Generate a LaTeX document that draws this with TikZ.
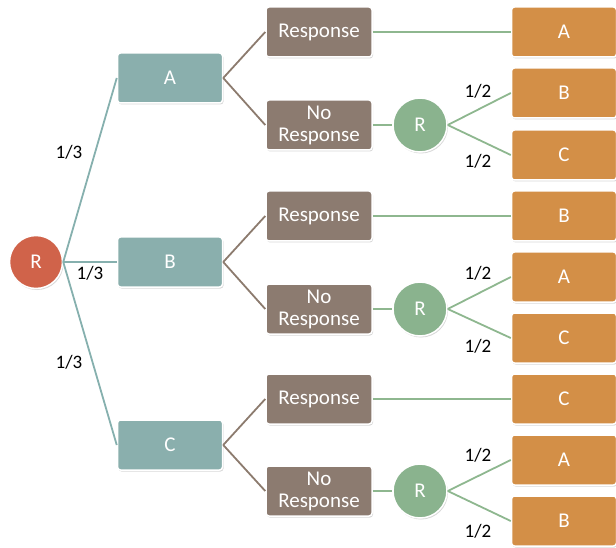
\documentclass[tikz,border=0pt]{standalone}
\usepackage{fontspec}
\setmainfont{Carlito}
\usetikzlibrary{shadows}
\definecolor{rootc}{HTML}{D0634A}
\definecolor{tealc}{HTML}{8AAFAD}
\definecolor{brownc}{HTML}{8C7B70}
\definecolor{orangec}{HTML}{D38F47}
\definecolor{greenc}{HTML}{8AB38E}
\definecolor{teall}{HTML}{86B0AE}
\definecolor{brownl}{HTML}{8C7B6E}
\definecolor{greenl}{HTML}{8EB78F}
\tikzset{
  boxbase/.style={rectangle, rounded corners=3pt, draw=white, line width=1.5pt,
    inner sep=0pt, text=white, align=center, font=\fontsize{21}{22}\selectfont,
    drop shadow={shadow xshift=1pt, shadow yshift=-1.5pt, opacity=0.25, fill=black!60}},
  tbox/.style={boxbase, fill=tealc, minimum width=105pt, minimum height=50pt},
  bbox/.style={boxbase, fill=brownc, minimum width=106pt, minimum height=50pt},
  obox/.style={boxbase, fill=orangec, minimum width=105pt, minimum height=50pt},
  rootnode/.style={circle, fill=rootc, draw=white, line width=1.5pt, minimum size=53pt, inner sep=0pt,
    text=white, font=\fontsize{21}{22}\selectfont,
    drop shadow={shadow xshift=1pt, shadow yshift=-1.5pt, opacity=0.25, fill=black!60}},
  gnode/.style={rootnode, fill=greenc, minimum size=54pt},
  tline/.style={draw=teall, line width=1.8pt},
  bline/.style={draw=brownl, line width=1.8pt},
  gline/.style={draw=greenl, line width=1.8pt},
  prob/.style={font=\fontsize{19}{20}\selectfont, text=black, inner sep=0pt},
}
\begin{document}
\begin{tikzpicture}[x=1pt,y=-1pt]
\useasboundingbox (0,0) rectangle (616,548);
% nodes
\node[rootnode] (r) at (36,262) {R};
\node[tbox] (ta) at (170,78) {A};
\node[tbox] (tb) at (170,262) {B};
\node[tbox] (tc) at (170,445) {C};
\node[bbox] (ra) at (319,32) {Response};
\node[bbox] (na) at (319,125) {No\\Response};
\node[bbox] (rb) at (319,216) {Response};
\node[bbox] (nb) at (319,309) {No\\Response};
\node[bbox] (rc) at (319,399) {Response};
\node[bbox] (nc) at (319,491) {No\\Response};
\node[gnode] (ga) at (420,125) {R};
\node[gnode] (gb) at (420,309) {R};
\node[gnode] (gc) at (420,491) {R};
\node[obox] (o1) at (564,32) {A};
\node[obox] (o2) at (564,93) {B};
\node[obox] (o3) at (564,155) {C};
\node[obox] (o4) at (564,216) {B};
\node[obox] (o5) at (564,277) {A};
\node[obox] (o6) at (564,338) {C};
\node[obox] (o7) at (564,399) {C};
\node[obox] (o8) at (564,460) {A};
\node[obox] (o9) at (564,521) {B};
% connectors
\draw[tline] (r.east) -- (ta.west);
\draw[tline] (r.east) -- (tb.west);
\draw[tline] (r.east) -- (tc.west);
\draw[bline] (ta.east) -- (ra.west);
\draw[bline] (ta.east) -- (na.west);
\draw[bline] (tb.east) -- (rb.west);
\draw[bline] (tb.east) -- (nb.west);
\draw[bline] (tc.east) -- (rc.west);
\draw[bline] (tc.east) -- (nc.west);
\draw[gline] (ra.east) -- (o1.west);
\draw[gline] (rb.east) -- (o4.west);
\draw[gline] (rc.east) -- (o7.west);
\draw[gline] (na.east) -- (ga.west);
\draw[gline] (nb.east) -- (gb.west);
\draw[gline] (nc.east) -- (gc.west);
\draw[gline] (ga.east) -- (o2.west);
\draw[gline] (ga.east) -- (o3.west);
\draw[gline] (gb.east) -- (o5.west);
\draw[gline] (gb.east) -- (o6.west);
\draw[gline] (gc.east) -- (o8.west);
\draw[gline] (gc.east) -- (o9.west);
% labels
\node[prob] (p1) at (69,152) {1/3};
\node[prob] (p2) at (90,273) {1/3};
\node[prob] (p3) at (69,362) {1/3};
\node[prob] (q1) at (478,91) {1/2};
\node[prob] (q2) at (478,161) {1/2};
\node[prob] (q3) at (478,273) {1/2};
\node[prob] (q4) at (478,346) {1/2};
\node[prob] (q5) at (478,455) {1/2};
\node[prob] (q6) at (478,531) {1/2};
\end{tikzpicture}
\end{document}
